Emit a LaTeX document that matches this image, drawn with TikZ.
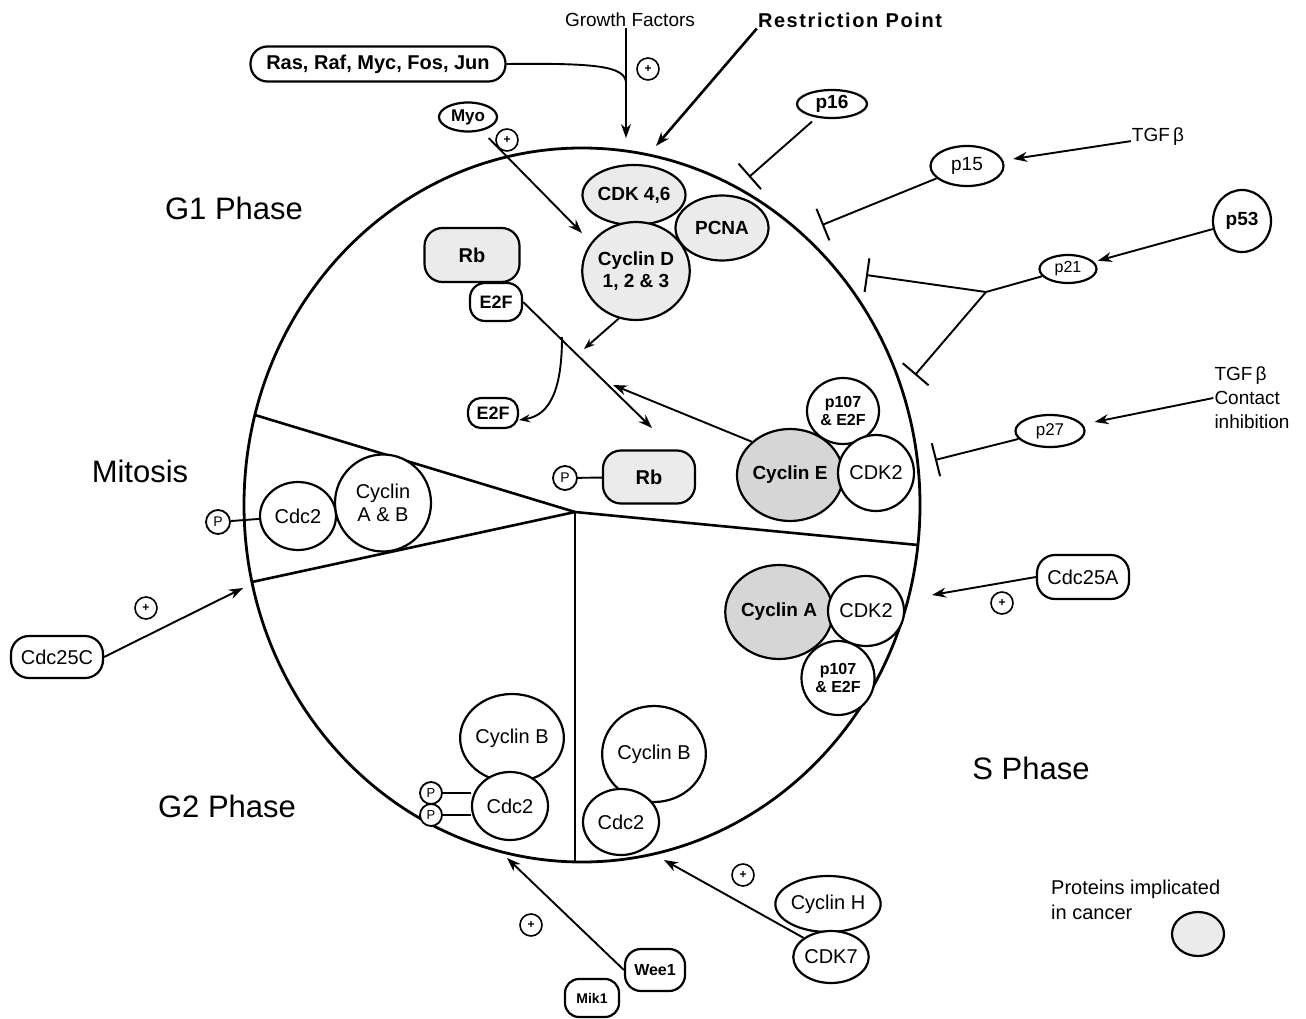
\documentclass[tikz,border=0pt]{standalone}
\usepackage{fontspec}
\setmainfont{Liberation Sans}
\usepackage{tikz}
\usetikzlibrary{shapes.geometric,arrows.meta}

\newcommand{\fsz}[2]{\fontsize{#1}{#2}\selectfont}

\tikzset{
  sz/.style 2 args={minimum width=#1pt, minimum height=#2pt},
  prot/.style={draw, line width=2.2pt, ellipse, fill=white, inner sep=0pt, align=center, font=\fsz{20}{23}},
  bprot/.style={prot, font=\bfseries\fsz{19}{22}},
  boxprot/.style={draw, line width=2.2pt, rectangle, fill=white, inner sep=0pt, align=center, font=\fsz{20}{23}},
  boldtxt/.style={font=\bfseries\fsz{19}{22}},
  cancer/.style={fill=black!8},
  cancerdark/.style={fill=black!16},
  pluscirc/.style={draw, circle, line width=1.6pt, minimum size=22pt, inner sep=0pt, font=\bfseries\fsz{12}{12}},
  phos/.style={draw, circle, line width=1.8pt, fill=white, minimum size=24pt, inner sep=0pt, font=\fsz{14}{14}},
  phasetxt/.style={font=\fsz{31}{34}},
  lbl/.style={font=\fsz{19}{22}, inner sep=1pt},
  link/.style={line width=1.9pt},
  act/.style={link, -{Stealth[length=14pt,width=10pt]}},
  inh/.style={link, -{Bar[width=34pt,line width=2pt]}},
  wall/.style={line width=2.6pt}
}

\begin{document}
\begin{tikzpicture}[x=1pt, y=-1pt]
  \useasboundingbox (0,0) rectangle (1306,1019);

  % the cell and its four phases
  \draw[wall, line width=2.8pt] (582,505) ellipse [x radius=338pt, y radius=357pt];
  \coordinate (hub) at (575,512);
  \coordinate (rimul) at (255,415);
  \coordinate (rimll) at (252,582);
  \coordinate (rimr) at (918,545);
  \coordinate (rimb) at (575,862);
  \draw[wall] (rimul) -- (hub) -- (rimr);
  \draw[wall] (rimll) -- (hub);
  \draw[line width=1.6pt] (hub) -- (rimb);

  \node[phasetxt] (gone) at (234,208) {G1 Phase};
  \node[phasetxt] (mitosis) at (140,471) {Mitosis};
  \node[phasetxt] (gtwo) at (227,806) {G2 Phase};
  \node[phasetxt] (sphase) at (1031,768) {S Phase};

  % signals from above
  \node[lbl] (gf) at (630,20) {Growth Factors};
  \node[lbl, font=\bfseries\fsz{20}{22}\addfontfeature{LetterSpace=8}] (rp) at (850,20) {Restriction Point};
  \node[boxprot, sz={255}{35}, rounded corners=17pt, font=\bfseries\fsz{20}{22}] (ras) at (378,64) {Ras, Raf, Myc, Fos, Jun};
  \node[pluscirc] (pgf) at (648,69) {+};
  \coordinate (gfend) at (626,138);
  \draw[act, line width=1.4pt] (gfend |- gf.south) -- (gfend);
  \draw[link] (ras.east) .. controls (595,63) and (624,66) .. (626,82);
  \coordinate (rpend) at (656,146);
  \draw[act, line width=2.6pt] (rp.south west) -- (rpend);

  \node[bprot, sz={58}{29}, font=\bfseries\fsz{17}{19}] (myo) at (468,117) {Myo};
  \node[pluscirc] (pmyo) at (507,140) {+};
  \coordinate (myoend) at (582,233);
  \draw[act, shorten <=10pt] (myo) -- (myoend);

  % G1: cyclin D complex, Rb and E2F
  \node[bprot, cancer, sz={93}{65}] (pcna) at (722,228) {PCNA};
  \node[bprot, cancer, sz={102}{60}] (cdkfs) at (634,195) {CDK 4,6};
  \node[bprot, cancer, sz={107}{98}] (cycd) at (636,271) {Cyclin D\\1, 2 \& 3};

  \node[boxprot, boldtxt, cancer, sz={95}{54}, rounded corners=18pt, font=\bfseries\fsz{20}{22}] (rbt) at (472,255) {Rb};
  \node[boxprot, boldtxt, sz={52}{38}, rounded corners=15pt, font=\bfseries\fsz{18}{20}] (efa) at (496,302) {E2F};
  \node[boxprot, boldtxt, sz={50}{30}, rounded corners=13pt, font=\bfseries\fsz{18}{20}] (efb) at (493,413) {E2F};

  \coordinate (rbend) at (652,428);
  \draw[act] (efa.east) -- (rbend);
  \coordinate (cdend) at (584,349);
  \draw[act, -{Stealth[length=11pt,width=8pt]}] (cycd.-110) -- (cdend);
  \coordinate (relstart) at (562,337);
  \draw[act, -{Stealth[length=11pt,width=8pt]}] (relstart) .. controls (562,385) and (552,415) .. (efb.-15);

  \node[phos] (phosr) at (565,478) {P};
  \node[boxprot, boldtxt, cancer, sz={92}{53}, rounded corners=18pt, font=\bfseries\fsz{20}{22}] (rbl) at (649,477) {Rb};
  \draw[link] (phosr) -- (rbl);

  % G1/S: cyclin E complex
  \node[bprot, sz={72}{66}, font=\bfseries\fsz{16}{18}] (pea) at (843,411) {p107\\\& E2F};
  \node[bprot, cancerdark, sz={98}{92}] (cyce) at (790,475) {Cyclin E};
  \node[prot, sz={76}{76}] (cdka) at (876,473) {CDK2};
  \coordinate (ceend) at (613,385);
  \draw[act] (cyce.north west) -- (ceend);

  % inhibitors
  \node[bprot, sz={70}{28}] (psixteen) at (832,104) {p16};
  \coordinate (psixbar) at (749,177);
  \draw[inh, shorten <=6pt] (psixteen) -- (psixbar);

  \node[prot, sz={73}{40}, font=\fsz{19}{22}] (pfifteen) at (967,166) {p15};
  \node[lbl] (tgfa) at (1158,137) {TGF\,β};
  \draw[act, shorten >=10pt] (tgfa) -- (pfifteen);
  \coordinate (pfifbar) at (822,225);
  \draw[inh] (pfifteen) -- (pfifbar);

  \node[bprot, sz={58}{62}] (pff) at (1242,221) {p53};
  \node[prot, sz={57}{28}, font=\fsz{16}{18}] (ptwo) at (1068,269) {p21};
  \draw[act, shorten >=4pt] (pff) -- (ptwo);
  \coordinate (fork) at (986,292);
  \coordinate (ptwobara) at (866,275);
  \coordinate (ptwobarb) at (915,375);
  \draw[link] (ptwo) -- (fork);
  \draw[inh] (fork) -- (ptwobara);
  \draw[inh] (fork) -- (ptwobarb);

  \node[prot, sz={69}{32}, font=\fsz{17}{19}] (pts) at (1050,431) {p27};
  \node[lbl, align=left, font=\fsz{19}{24}] (tgfb) at (1252,398) {TGF\,β\\Contact\\inhibition};
  \draw[act, shorten >=12pt] (tgfb.west) -- (pts);
  \coordinate (ptsbar) at (935,460);
  \draw[inh] (pts) -- (ptsbar);

  % S: cyclin A complex
  \node[bprot, cancerdark, sz={96}{94}] (cyca) at (779,612) {Cyclin A};
  \node[prot, sz={76}{70}] (cdkb) at (866,611) {CDK2};
  \node[bprot, sz={73}{74}, font=\bfseries\fsz{16}{18}] (peb) at (838,678) {p107\\\& E2F};
  \node[boxprot, sz={92}{44}, rounded corners=18pt] (cdcta) at (1083,577) {Cdc25A};
  \node[pluscirc] (pcta) at (1002,603) {+};
  \coordinate (ctaend) at (932,595);
  \draw[act] (cdcta.west) -- (ctaend);

  % G2: cyclin B and Cdc2
  \node[prot, sz={96}{88}] (cycba) at (512,738) {Cyclin B};
  \node[prot, sz={76}{68}] (cdcb) at (510,806) {Cdc2};
  \node[phos, minimum size=22pt, font=\fsz{13}{13}] (phosa) at (431,793) {P};
  \node[phos, minimum size=22pt, font=\fsz{13}{13}] (phosb) at (431,815) {P};
  \draw[link] (phosa) -- (phosa -| cdcb.west);
  \draw[link] (phosb) -- (phosb -| cdcb.west);

  \node[prot, sz={96}{96}] (cycbb) at (654,754) {Cyclin B};
  \node[prot, sz={76}{66}] (cdcc) at (621,822) {Cdc2};

  \node[prot, sz={90}{56}] (cych) at (828,904) {Cyclin H};
  \node[prot, sz={68}{52}] (cdkseven) at (831,957) {CDK7};
  \coordinate (chend) at (664,860);
  \draw[act] (cdkseven.north west) -- (chend);
  \node[pluscirc] (pch) at (743,875) {+};

  \node[boxprot, sz={60}{42}, rounded corners=16pt, font=\bfseries\fsz{16}{18}] (wee) at (655,970) {Wee1};
  \node[boxprot, sz={54}{38}, rounded corners=14pt, font=\bfseries\fsz{14}{16}] (mik) at (592,998) {Mik1};
  \coordinate (weeend) at (507,858);
  \draw[act] (wee.west) -- (weeend);
  \node[pluscirc] (pwee) at (531,925) {+};

  % mitosis
  \node[phos] (phosc) at (218,522) {P};
  \node[prot, sz={76}{68}] (cdcm) at (298,516) {Cdc2};
  \node[prot, sz={96}{97}] (cycab) at (383,503) {Cyclin\\A \& B};
  \draw[link] (phosc) -- (cdcm);

  \node[boxprot, sz={92}{42}, rounded corners=18pt] (cdctc) at (57,657) {Cdc25C};
  \coordinate (ctcend) at (243,588);
  \draw[act] (cdctc.east) -- (ctcend);
  \node[pluscirc] (pctc) at (146,608) {+};

  % legend
  \node[lbl, anchor=north west, align=left, font=\fsz{20}{25}] (legend) at (1050,879) {Proteins implicated\\in cancer};
  \node[prot, cancer, sz={52}{44}] (legc) at (1198,934) {};
\end{tikzpicture}
\end{document}
